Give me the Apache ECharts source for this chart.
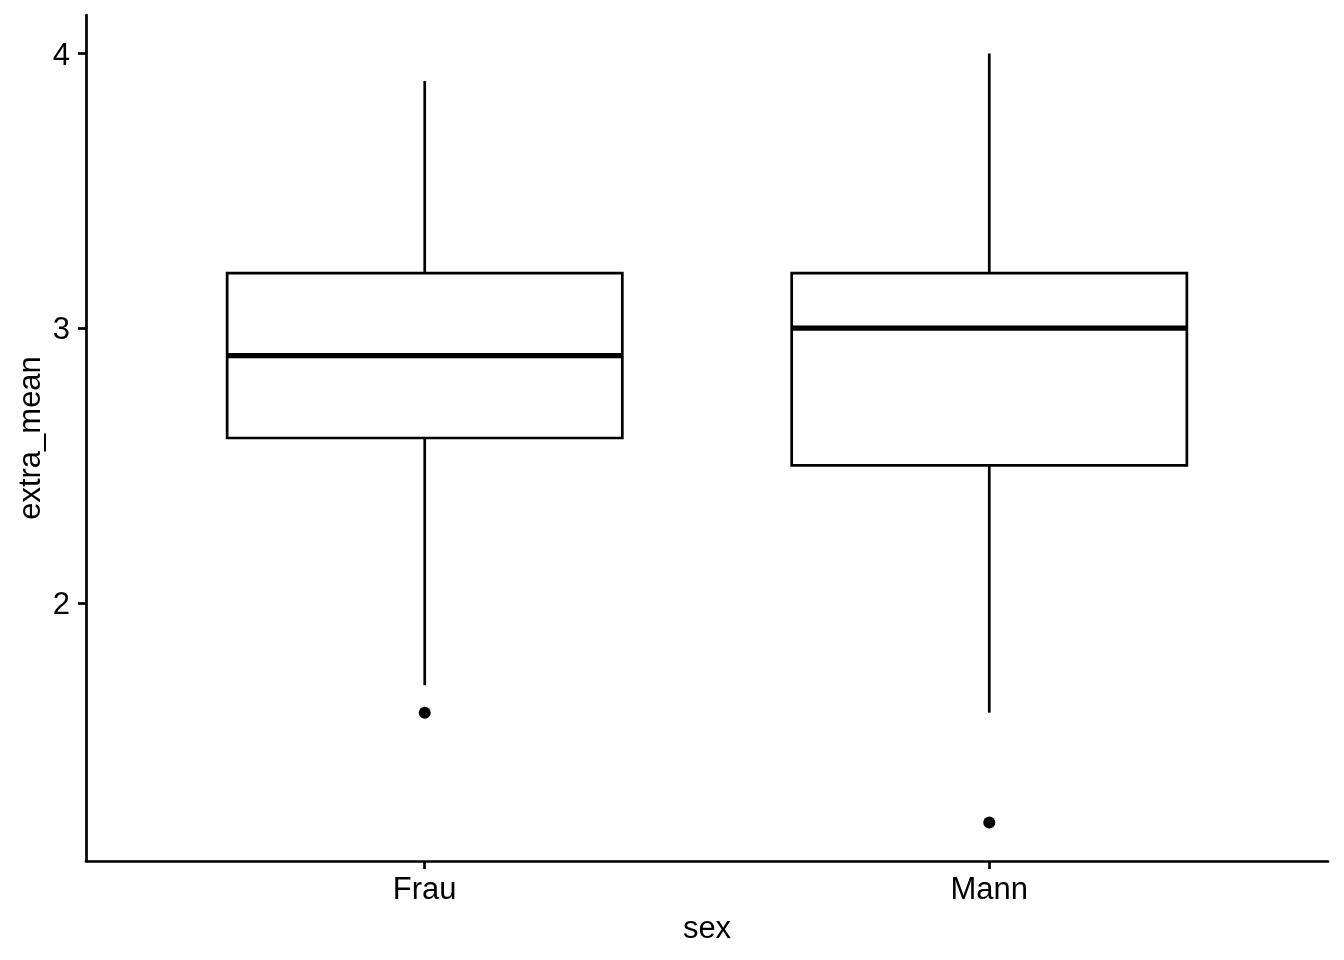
<!DOCTYPE html>
<html>
<head>
<meta charset="utf-8">
<script src="https://cdn.jsdelivr.net/npm/echarts@6/dist/echarts.min.js"></script>
<style>
html,body{margin:0;padding:0;background:#fff;}
#chart{width:1344px;height:960px;}
</style>
</head>
<body>
<div id="chart"></div>
<script>
const categories = ['Frau', 'Mann'];
const lowerWhisker = [1.7, 1.6];
const q1Values = [2.6, 2.5];
const medianValues = [2.9, 3.0];
const q3Values = [3.2, 3.2];
const upperWhisker = [3.9, 4.0];
const outlierCategory = ['Frau', 'Mann'];
const outlierValue = [1.6, 1.2];
const yTicks = [2, 3, 4];

const FONT = "'Liberation Sans', Arial, sans-serif";
const LW = 2.7;

const boxData = categories.map((c, i) => [i + 1, lowerWhisker[i], q1Values[i], medianValues[i], q3Values[i], upperWhisker[i]]);
const outlierData = outlierCategory.map((c, i) => [categories.indexOf(c) + 1, outlierValue[i]]);

const chart = echarts.init(document.getElementById('chart'));
chart.setOption({
  animation: false,
  backgroundColor: '#fff',
  grid: { left: 86, right: 16, top: 15, bottom: 99, containLabel: false },
  xAxis: {
    type: 'value', min: 0.4, max: 2.6,
    name: 'sex', nameLocation: 'middle', nameGap: 53, nameMoveOverlap: false,
    nameTextStyle: { fontFamily: FONT, fontSize: 31, color: '#000' },
    axisLine: { show: true, lineStyle: { color: '#000', width: LW } },
    axisTick: { show: true, length: 8, customValues: [1, 2], lineStyle: { color: '#000', width: LW } },
    axisLabel: { customValues: [1, 2], margin: 14, fontFamily: FONT, fontSize: 31, color: '#000',
      formatter: v => categories[Math.round(v) - 1] || '' },
    splitLine: { show: false }
  },
  yAxis: {
    type: 'value', min: 1.06, max: 4.14,
    name: 'extra_mean', nameLocation: 'middle', nameGap: 39, nameMoveOverlap: false,
    nameTextStyle: { fontFamily: FONT, fontSize: 31, color: '#000' },
    axisLine: { show: true, lineStyle: { color: '#000', width: LW } },
    axisTick: { show: true, length: 8, customValues: yTicks, lineStyle: { color: '#000', width: LW } },
    axisLabel: { customValues: yTicks, margin: 16, fontFamily: FONT, fontSize: 31, color: '#000',
      verticalAlign: 'top', lineHeight: 5 },
    splitLine: { show: false }
  },
  series: [
    {
      type: 'custom',
      data: boxData,
      encode: { x: 0, y: [1, 2, 3, 4, 5] },
      renderItem: function (params, api) {
        const x = api.value(0);
        const lo = api.coord([x, api.value(1)]);
        const q1 = api.coord([x, api.value(2)]);
        const med = api.coord([x, api.value(3)]);
        const q3 = api.coord([x, api.value(4)]);
        const hi = api.coord([x, api.value(5)]);
        const w = api.size([0.7, 0])[0];
        const st = { stroke: '#000', lineWidth: LW, fill: null };
        return {
          type: 'group',
          children: [
            { type: 'line', shape: { x1: lo[0], y1: lo[1], x2: q1[0], y2: q1[1] }, style: st },
            { type: 'line', shape: { x1: q3[0], y1: q3[1], x2: hi[0], y2: hi[1] }, style: st },
            { type: 'rect', shape: { x: q1[0] - w / 2, y: q3[1], width: w, height: q1[1] - q3[1] },
              style: { fill: '#fff', stroke: '#000', lineWidth: LW } },
            { type: 'line', shape: { x1: med[0] - w / 2, y1: med[1], x2: med[0] + w / 2, y2: med[1] },
              style: { stroke: '#000', lineWidth: LW * 2 } }
          ]
        };
      }
    },
    {
      type: 'scatter',
      data: outlierData,
      symbol: 'circle',
      symbolSize: 12,
      itemStyle: { color: '#000', opacity: 1 }
    }
  ]
});
</script>
</body>
</html>
